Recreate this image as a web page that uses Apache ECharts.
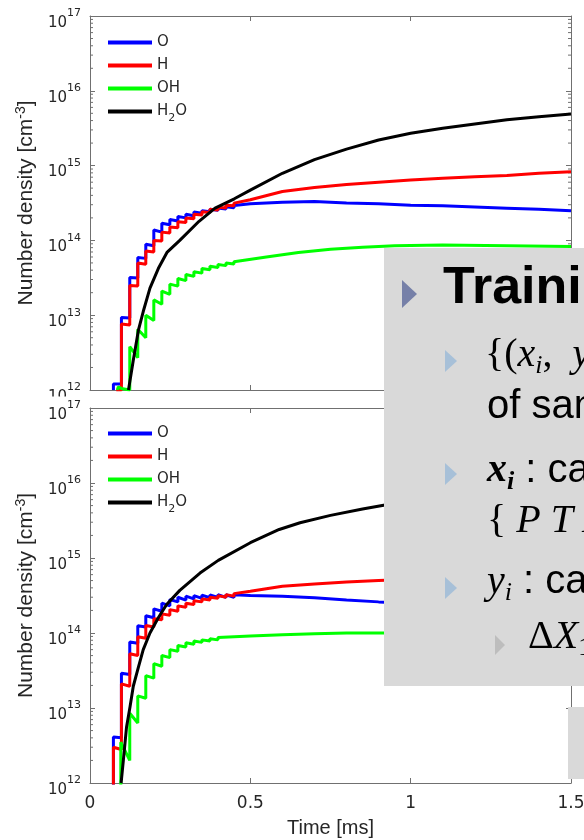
<!DOCTYPE html>
<html><head><meta charset="utf-8">
<script src="https://cdn.jsdelivr.net/npm/echarts@6/dist/echarts.min.js"></script>
<style>html,body{margin:0;padding:0;background:#fff;}#c{width:584px;height:840px;}</style>
</head><body><div id="c"></div>
<script>
// ---- data ----
const seriesNames = ['O', 'H', 'OH', 'H2O'];
const seriesColors = ['#0000ff', '#ff0000', '#00ff00', '#000000'];
const xTicks = [0, 0.5, 1, 1.5];
const yDecades = [12, 13, 14, 15, 16, 17];
const minorMultipliers = [2, 3, 4, 5, 6, 7, 8, 9];

// upper panel  [time ms, number density cm^-3]
const topO = [[0.073,1e12],[0.073,1.2e12],[0.098,1.2e12],[0.098,9.3e12],[0.124,9.2e12],[0.124,3.2e13],[0.149,3.15e13],[0.149,5.9e13],[0.174,5.75e13],[0.174,8.9e13],[0.199,8.5e13],[0.199,1.38e14],[0.224,1.29e14],[0.224,1.7e14],[0.249,1.62e14],[0.249,1.9e14],[0.274,1.82e14],[0.274,2.09e14],[0.299,2.0e14],[0.299,2.24e14],[0.324,2.14e14],[0.324,2.4e14],[0.349,2.3e14],[0.349,2.5e14],[0.374,2.42e14],[0.374,2.6e14],[0.399,2.52e14],[0.399,2.72e14],[0.424,2.63e14],[0.424,2.82e14],[0.449,2.74e14],[0.449,2.92e14],[0.5,3.1e14],[0.6,3.24e14],[0.7,3.3e14],[0.8,3.16e14],[0.9,3.1e14],[1.0,2.95e14],[1.1,2.9e14],[1.2,2.8e14],[1.3,2.7e14],[1.4,2.6e14],[1.5,2.5e14]];
const topH = [[0.082,1e12],[0.098,1e12],[0.098,7.6e12],[0.124,7.4e12],[0.124,2.5e13],[0.149,2.45e13],[0.149,5.0e13],[0.174,4.8e13],[0.174,7.2e13],[0.199,7.0e13],[0.199,1.0e14],[0.224,9.8e13],[0.224,1.29e14],[0.249,1.26e14],[0.249,1.51e14],[0.274,1.48e14],[0.274,1.78e14],[0.299,1.74e14],[0.299,2.0e14],[0.324,1.95e14],[0.324,2.24e14],[0.349,2.18e14],[0.349,2.42e14],[0.374,2.36e14],[0.374,2.6e14],[0.399,2.54e14],[0.399,2.78e14],[0.424,2.72e14],[0.424,2.95e14],[0.449,2.9e14],[0.449,3.15e14],[0.5,3.5e14],[0.6,4.5e14],[0.7,5.1e14],[0.8,5.6e14],[0.9,6.0e14],[1.0,6.4e14],[1.1,6.8e14],[1.2,7.1e14],[1.3,7.4e14],[1.4,7.9e14],[1.5,8.3e14]];
const topOH = [[0.086,1e12],[0.088,1.1e12],[0.098,1.05e12],[0.1,1e12],[0.124,1e12],[0.124,3.8e12],[0.149,2.7e12],[0.149,6.5e12],[0.174,5.0e12],[0.174,1.0e13],[0.199,8.5e12],[0.199,1.6e13],[0.224,1.4e13],[0.224,2.1e13],[0.249,1.9e13],[0.249,2.6e13],[0.274,2.45e13],[0.274,3.1e13],[0.299,2.9e13],[0.299,3.5e13],[0.324,3.3e13],[0.324,3.8e13],[0.349,3.65e13],[0.349,4.2e13],[0.374,4.05e13],[0.374,4.5e13],[0.399,4.35e13],[0.399,4.75e13],[0.424,4.6e13],[0.424,5.0e13],[0.449,4.85e13],[0.449,5.2e13],[0.55,6.0e13],[0.65,6.9e13],[0.75,7.6e13],[0.85,8.1e13],[0.95,8.5e13],[1.1,8.7e13],[1.3,8.5e13],[1.5,8.3e13]];
const topH2O = [[0.12,1e12],[0.135,2.5e12],[0.151,6.3e12],[0.166,1.12e13],[0.187,2.3e13],[0.213,4.2e13],[0.24,6.9e13],[0.28,1.0e14],[0.34,1.8e14],[0.39,2.7e14],[0.45,3.6e14],[0.5,4.7e14],[0.6,7.9e14],[0.7,1.2e15],[0.8,1.66e15],[0.9,2.2e15],[1.0,2.7e15],[1.1,3.16e15],[1.2,3.6e15],[1.3,4.1e15],[1.4,4.5e15],[1.5,4.9e15]];

// lower panel
const botO = [[0.073,1e11],[0.073,4.1e12],[0.098,4.0e12],[0.098,2.9e13],[0.124,2.8e13],[0.124,7.6e13],[0.149,7.3e13],[0.149,1.25e14],[0.174,1.2e14],[0.174,1.7e14],[0.199,1.6e14],[0.199,2.1e14],[0.224,1.95e14],[0.224,2.5e14],[0.249,2.3e14],[0.249,2.8e14],[0.274,2.6e14],[0.274,3.0e14],[0.299,2.75e14],[0.299,3.1e14],[0.324,2.85e14],[0.324,3.15e14],[0.349,2.9e14],[0.349,3.2e14],[0.374,2.95e14],[0.374,3.22e14],[0.399,2.97e14],[0.399,3.24e14],[0.424,2.98e14],[0.424,3.24e14],[0.449,2.98e14],[0.449,3.24e14],[0.5,3.16e14],[0.6,3.1e14],[0.7,2.95e14],[0.8,2.75e14],[0.9,2.6e14],[1.0,2.5e14],[1.2,2.3e14],[1.5,2.0e14]];
const botH = [[0.073,1e11],[0.073,3.0e12],[0.098,2.8e12],[0.098,2.1e13],[0.124,1.95e13],[0.124,5.3e13],[0.149,5.0e13],[0.149,8.9e13],[0.174,8.5e13],[0.174,1.26e14],[0.199,1.2e14],[0.199,1.55e14],[0.224,1.5e14],[0.224,1.8e14],[0.249,1.72e14],[0.249,2.05e14],[0.274,1.95e14],[0.274,2.3e14],[0.299,2.2e14],[0.299,2.5e14],[0.324,2.4e14],[0.324,2.7e14],[0.349,2.6e14],[0.349,2.85e14],[0.374,2.75e14],[0.374,3.0e14],[0.399,2.9e14],[0.399,3.15e14],[0.424,3.0e14],[0.424,3.25e14],[0.449,3.1e14],[0.449,3.35e14],[0.5,3.6e14],[0.6,4.2e14],[0.7,4.5e14],[0.8,4.8e14],[0.9,5.0e14],[1.0,5.2e14],[1.2,5.6e14],[1.5,6.3e14]];
const botOH = [[0.096,1e11],[0.096,3.5e12],[0.124,2.0e12],[0.124,8.5e12],[0.149,6.3e12],[0.149,1.45e13],[0.174,1.35e13],[0.174,2.7e13],[0.199,2.5e13],[0.199,3.9e13],[0.224,3.6e13],[0.224,5.0e13],[0.249,4.7e13],[0.249,6.0e13],[0.274,5.7e13],[0.274,6.8e13],[0.299,6.5e13],[0.299,7.4e13],[0.324,7.1e13],[0.324,7.8e13],[0.349,7.5e13],[0.349,8.1e13],[0.374,7.8e13],[0.374,8.4e13],[0.399,8.1e13],[0.399,8.7e13],[0.5,9.1e13],[0.6,9.5e13],[0.7,9.8e13],[0.8,1.0e14],[0.9,1.0e14],[1.2,1.0e14],[1.5,9.8e13]];
const botH2O = [[0.097,1e12],[0.104,2.0e12],[0.114,5.6e12],[0.125,1.05e13],[0.135,1.95e13],[0.151,3.5e13],[0.166,6.0e13],[0.187,1.0e14],[0.213,1.6e14],[0.239,2.4e14],[0.28,3.7e14],[0.343,6.3e14],[0.4,9.3e14],[0.5,1.6e15],[0.59,2.4e15],[0.655,2.95e15],[0.75,3.7e15],[0.85,4.5e15],[0.92,5.1e15],[1.0,5.8e15],[1.2,7.2e15],[1.5,9.5e15]];

const topData = [topO, topH, topOH, topH2O];
const botData = [botO, botH, botOH, botH2O];

// ---- chart ----
const FONT = 'Liberation Sans';
const TICKFONT = 'DejaVu Sans';
const SERIF = 'Liberation Serif';
const TXT = '#262626';
const AX = '#707070';
const yMin = Math.pow(10, yDecades[0]);
const yMax = Math.pow(10, yDecades[yDecades.length - 1]);
const xMin = xTicks[0], xMax = xTicks[xTicks.length - 1];

const minorVals = [];
yDecades.slice(0, -1).forEach(d => minorMultipliers.forEach(m => minorVals.push([xMin, m * Math.pow(10, d)])));

const grids = [
  {left: 90, top: 16, width: 481, height: 374},
  {left: 90, top: 408, width: 481, height: 375}
];

function xAx(gi, pos, showLabels, withName) {
  return {
    type: 'value', gridIndex: gi, position: pos, min: xMin, max: xMax, interval: 0.5,
    axisLine: {show: true, onZero: false, lineStyle: {color: AX, width: 1}},
    axisTick: {show: true, inside: true, length: 5, lineStyle: {color: AX}},
    splitLine: {show: false},
    axisLabel: {show: showLabels, margin: 12, color: TXT, fontFamily: TICKFONT, fontSize: 17},
    name: withName ? 'Time [ms]' : '', nameLocation: 'middle', nameGap: 35,
    nameTextStyle: {color: TXT, fontFamily: FONT, fontSize: 20}
  };
}
function yAx(gi, pos, showLabels, z) {
  return {
    type: 'log', logBase: 10, gridIndex: gi, position: pos, min: yMin, max: yMax, splitNumber: 5, z: z,
    axisLine: {show: true, onZero: false, lineStyle: {color: AX, width: 1}},
    axisTick: {show: true, inside: true, length: 5, lineStyle: {color: AX}},
    splitLine: {show: false},
    axisLabel: {
      show: showLabels, margin: 9, padding: [14, 0, 0, 0],
      formatter: v => '{b|10}{s|' + Math.round(Math.log10(v)) + '}',
      rich: {
        b: {fontFamily: TICKFONT, fontSize: 15, color: TXT, lineHeight: 30, verticalAlign: 'middle'},
        s: {fontFamily: TICKFONT, fontSize: 11, color: TXT, lineHeight: 10, verticalAlign: 'top'}
      }
    },
    name: showLabels ? '{a|Number density [cm}{s|-3}{a|]}' : '',
    nameLocation: 'middle', nameGap: 51, nameRotate: 90,
    nameTextStyle: {
      rich: {
        a: {fontFamily: FONT, fontSize: 21, color: TXT, lineHeight: 24, verticalAlign: 'middle'},
        s: {fontFamily: FONT, fontSize: 14, color: TXT, lineHeight: 10, verticalAlign: 'top'}
      }
    }
  };
}

function legendFor(top) {
  return {
    orient: 'vertical', left: 103, top: top, itemWidth: 44, itemHeight: 4, itemGap: 8,
    icon: 'rect', data: seriesNames, selectedMode: false,
    formatter: n => n === 'H2O' ? '{n|H}{u|2}{n|O}' : '{n|' + n + '}',
    textStyle: {
      color: TXT,
      rich: {
        n: {fontFamily: TICKFONT, fontSize: 15, color: TXT, lineHeight: 24, verticalAlign: 'middle'},
        u: {fontFamily: TICKFONT, fontSize: 11, color: TXT, lineHeight: 6, verticalAlign: 'bottom'}
      }
    }
  };
}

function minorTickRender(params, api) {
  const v = api.value(1);
  const a = api.coord([xMin, v]);
  const b = api.coord([xMax, v]);
  return {type: 'group', children: [
    {type: 'line', shape: {x1: a[0], y1: a[1], x2: a[0] + 3, y2: a[1]}, style: {stroke: AX, lineWidth: 1}},
    {type: 'line', shape: {x1: b[0] - 3, y1: b[1], x2: b[0], y2: b[1]}, style: {stroke: AX, lineWidth: 1}}
  ]};
}

const series = [];
[topData, botData].forEach((set, gi) => {
  set.forEach((d, i) => {
    series.push({
      type: 'line', name: seriesNames[i], data: d, xAxisIndex: gi * 2, yAxisIndex: gi * 2,
      showSymbol: false, symbol: 'none', clip: true, animation: false,
      lineStyle: {color: seriesColors[i], width: 3}, itemStyle: {color: seriesColors[i]}
    });
  });
  series.push({
    type: 'custom', xAxisIndex: gi * 2, yAxisIndex: gi * 2, data: minorVals, silent: true,
    animation: false, clip: false, renderItem: minorTickRender
  });
});

// overlaid slide text
const richMath = {
  t: {fontFamily: FONT, fontSize: 40, color: '#111', lineHeight: 44, verticalAlign: 'top'},
  u: {fontFamily: SERIF, fontSize: 40, color: '#111', lineHeight: 44, verticalAlign: 'top'},
  m: {fontFamily: SERIF, fontStyle: 'italic', fontSize: 40, color: '#111', lineHeight: 44, verticalAlign: 'top'},
  mb: {fontFamily: SERIF, fontStyle: 'italic', fontWeight: 'bold', fontSize: 40, color: '#111', lineHeight: 44, verticalAlign: 'top'},
  s: {fontFamily: SERIF, fontStyle: 'italic', fontSize: 26, color: '#111', lineHeight: 22, verticalAlign: 'bottom'},
  sb: {fontFamily: SERIF, fontStyle: 'italic', fontWeight: 'bold', fontSize: 26, color: '#111', lineHeight: 22, verticalAlign: 'bottom'},
  n: {fontFamily: SERIF, fontSize: 26, color: '#111', lineHeight: 22, verticalAlign: 'bottom'}
};
function txt(x, y, text) {
  return {type: 'text', z: 101, x: x, y: y, style: {text: text, rich: richMath, verticalAlign: 'middle', align: 'left'}};
}
function tri(x, y, w, h, color) {
  return {type: 'polygon', z: 101, shape: {points: [[x, y], [x + w, y + h / 2], [x, y + h]]}, style: {fill: color}};
}
const BOX = '#d9d9d9';

const option = {
  backgroundColor: '#ffffff',
  animation: false,
  grid: grids.map(g => Object.assign({containLabel: false, outerBoundsMode: 'none'}, g)),
  xAxis: [xAx(0, 'bottom', false, false), xAx(0, 'top', false, false), xAx(1, 'bottom', true, true), xAx(1, 'top', false, false)],
  yAxis: [yAx(0, 'left', true, 0), yAx(0, 'right', false, 0), yAx(1, 'left', true, 10), yAx(1, 'right', false, 10)],
  legend: [legendFor(30), legendFor(421)],
  series: series,
  graphic: [
    {type: 'rect', z: 5, shape: {x: 0, y: 396.5, width: 88, height: 11}, style: {fill: '#ffffff'}},
    {type: 'rect', z: 100, shape: {x: 384, y: 248, width: 200, height: 438}, style: {fill: BOX}},
    {type: 'rect', z: 100, shape: {x: 568, y: 707, width: 16, height: 72}, style: {fill: BOX}},
    tri(402, 280, 15, 28, '#7680a8'),
    {type: 'text', z: 101, x: 443, y: 289, style: {text: 'Training data', font: 'bold 52px "Liberation Sans"', fill: '#000', verticalAlign: 'middle', align: 'left'}},
    tri(445, 350, 12, 22, '#a7c0d8'),
    txt(485, 357, '{u|{(}{m|x}{s|i}{u|,  }{m|y}{s|i}{u|)} set}'),
    txt(487, 409, '{t|of samples}'),
    tri(445, 463, 12, 22, '#a7c0d8'),
    txt(487, 473, '{mb|x}{sb|i}{t| : case input}'),
    txt(487, 523, '{u|{ }{m|P T X}{n|1}{u| ...}'),
    tri(445, 577, 12, 22, '#a7c0d8'),
    txt(487, 584, '{m|y}{s|i}{t| : case output}'),
    tri(495, 635, 10, 20, '#bdbdbd'),
    txt(528, 639, '{u|Δ}{m|X}{n|1}{u| ...}')
  ]
};

const chart = echarts.init(document.getElementById('c'), null, {renderer: 'canvas'});
chart.setOption(option);
</script>
</body></html>
